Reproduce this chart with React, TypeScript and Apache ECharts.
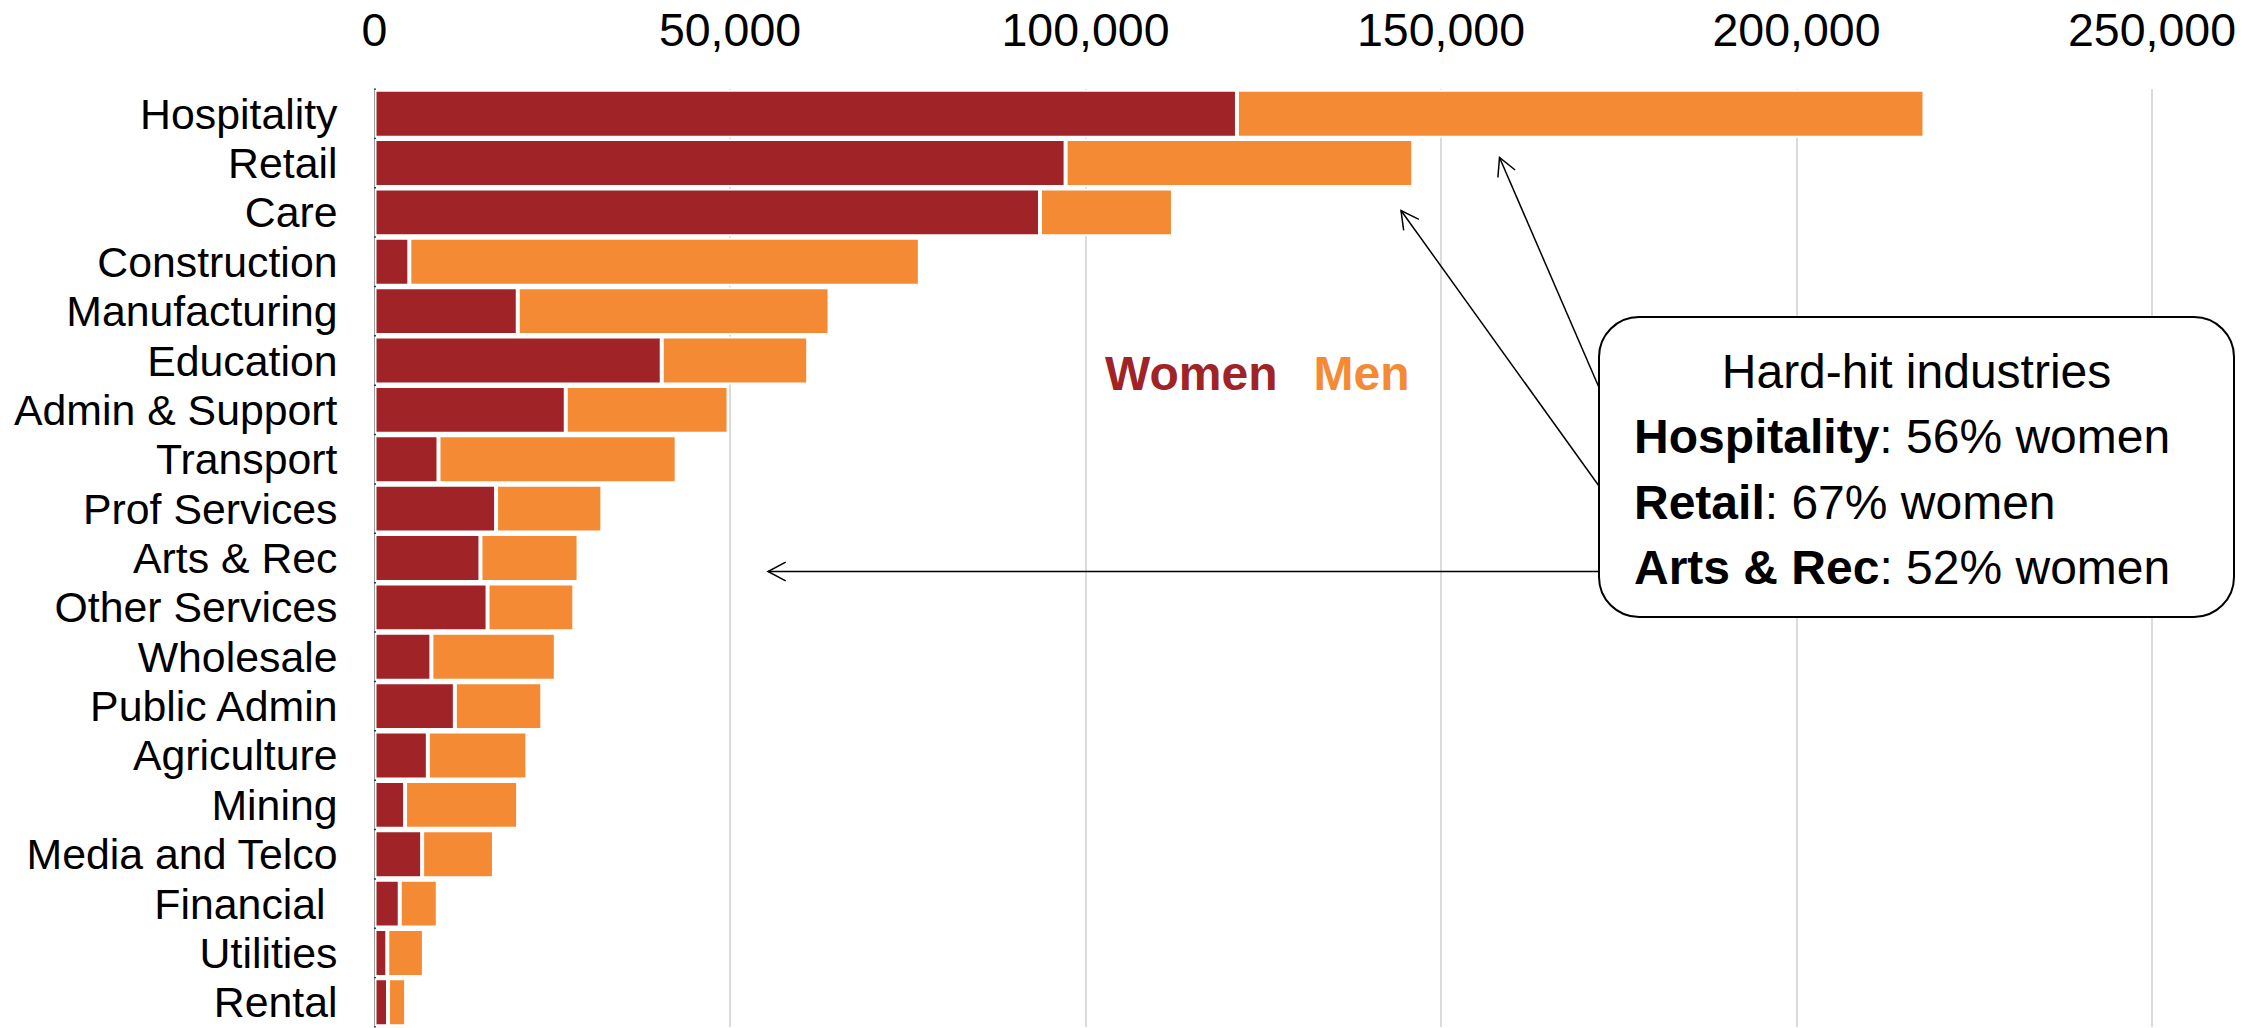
import React, { useEffect, useRef } from 'react';
import * as echarts from 'echarts';

const FONT = '"Liberation Sans", Arial, Helvetica, sans-serif';
const WOMEN_COLOR = '#9F2327';
const MEN_COLOR = '#F48B34';

const categories = [
  'Hospitality', 'Retail', 'Care', 'Construction', 'Manufacturing', 'Education',
  'Admin & Support', 'Transport', 'Prof Services', 'Arts & Rec', 'Other Services',
  'Wholesale', 'Public Admin', 'Agriculture', 'Mining', 'Media and Telco',
  'Financial ', 'Utilities', 'Rental',
];
const women = [121300, 97200, 93600, 4900, 20150, 40400, 26900, 9000, 17100, 14900, 15900, 8000, 11300, 7500, 4300, 6700, 3550, 1800, 1900];
const men = [96700, 48900, 18700, 71800, 43850, 20600, 22900, 33500, 14950, 13800, 12200, 17500, 12300, 14000, 15900, 10100, 5350, 5150, 2550];

const xMin = 0;
const xMax = 250000;
const xStep = 50000;

const annotationTitle = 'Hard-hit industries';
const highlightNames = ['Hospitality', 'Retail', 'Arts & Rec'];
const highlightPcts = [56, 67, 52];

function arrowEls(x1: number, y1: number, x2: number, y2: number) {
  const ang = Math.atan2(y2 - y1, x2 - x1);
  const L = 20;
  const a = (28 * Math.PI) / 180;
  const p1 = [x2 - L * Math.cos(ang - a), y2 - L * Math.sin(ang - a)];
  const p2 = [x2 - L * Math.cos(ang + a), y2 - L * Math.sin(ang + a)];
  return [
    { type: 'line', z: 50, shape: { x1, y1, x2, y2 }, style: { stroke: '#000', lineWidth: 1.5 } },
    { type: 'polyline', z: 50, shape: { points: [p1, [x2, y2], p2] }, style: { stroke: '#000', fill: 'none', lineWidth: 1.5 } },
  ];
}

export default function App() {
  const ref = useRef<HTMLDivElement>(null);
  useEffect(() => {
    document.body.style.margin = '0';
    const chart = echarts.init(ref.current!, null, { renderer: 'svg' });

    const box = { x: 1599, y: 317, w: 635, h: 300 };
    const lineYs = [436, 502.5, 567.5];
    const textEls: any[] = [
      {
        type: 'text', z: 60, x: box.x + box.w / 2, y: 371,
        style: {
          text: annotationTitle, fontSize: 48, fontFamily: FONT, fill: '#000',
          textAlign: 'center', textVerticalAlign: 'middle', align: 'center', verticalAlign: 'middle',
        },
      },
      ...highlightNames.map((n, i) => ({
        type: 'text', z: 60, x: 1634, y: lineYs[i],
        style: {
          text: `{b|${n}}: ${highlightPcts[i]}% women`, fontSize: 48, fontFamily: FONT, fill: '#000',
          textAlign: 'left', textVerticalAlign: 'middle', align: 'left', verticalAlign: 'middle',
          rich: { b: { fontWeight: 'bold', fontSize: 48, fontFamily: FONT, fill: '#000' } },
        },
      })),
    ];

    chart.setOption({
      animation: false,
      backgroundColor: '#fff',
      textStyle: { fontFamily: FONT },
      grid: { left: 374.5, right: 115, top: 89, bottom: 1, containLabel: false },
      legend: {
        left: 1094, top: 344, icon: 'rect', itemWidth: 0, itemHeight: 0, itemGap: 30,
        selectedMode: false,
        textStyle: { fontSize: 48, fontWeight: 'bold', fontFamily: FONT },
        data: [
          { name: 'Women', textStyle: { color: WOMEN_COLOR } },
          { name: 'Men', textStyle: { color: MEN_COLOR } },
        ],
      },
      xAxis: {
        type: 'value', position: 'top', min: xMin, max: xMax, interval: xStep,
        axisLine: { show: false }, axisTick: { show: false },
        axisLabel: {
          fontSize: 46.5, color: '#000', margin: 36, fontFamily: FONT,
          formatter: (v: number) => v.toLocaleString('en-US'),
        },
        splitLine: { show: true, lineStyle: { color: '#cfcfcf', width: 1.5 } },
      },
      yAxis: {
        type: 'category', inverse: true, data: categories,
        axisLine: { show: true, lineStyle: { color: '#000', width: 1.5 } },
        axisTick: { show: false },
        axisLabel: { interval: 0, fontSize: 42.8, color: '#000', margin: 37, fontFamily: FONT },
      },
      series: [
        {
          name: 'Women', type: 'bar', stack: 'total', data: women, barCategoryGap: '3%',
          itemStyle: { color: WOMEN_COLOR, borderColor: '#fff', borderWidth: 2 },
        },
        {
          name: 'Men', type: 'bar', stack: 'total', data: men, barCategoryGap: '3%',
          itemStyle: { color: MEN_COLOR, borderColor: '#fff', borderWidth: 2 },
        },
      ],
      graphic: [
        ...arrowEls(box.x, 387.5, 1499.5, 157.5),
        ...arrowEls(box.x, 486, 1401, 210.5),
        ...arrowEls(box.x, 571.5, 768, 571.5),
        {
          type: 'rect', z: 55,
          shape: { x: box.x, y: box.y, width: box.w, height: box.h, r: 40 },
          style: { fill: '#fff', stroke: '#000', lineWidth: 2 },
        },
        ...textEls,
      ],
    });
    return () => chart.dispose();
  }, []);
  return <div ref={ref} style={{ position: 'absolute', left: 0, top: 0, width: 2267, height: 1028 }} />;
}
